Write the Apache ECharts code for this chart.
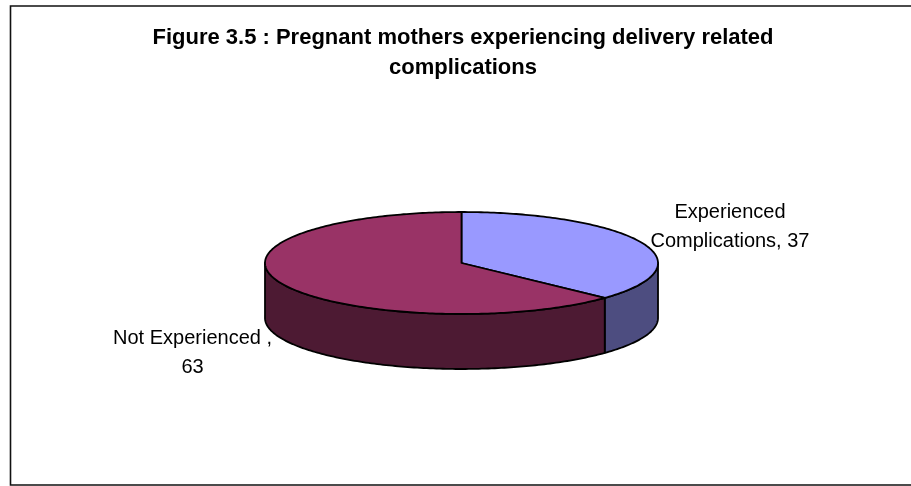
<!DOCTYPE html>
<html><head><meta charset="utf-8">
<style>html,body{margin:0;padding:0;background:#fff}#c{width:911px;height:486px}</style>
<script src="https://cdn.jsdelivr.net/npm/echarts@6/dist/echarts.min.js"></script>
</head><body><div id="c"></div>
<script>
const categories = ['Experienced Complications', 'Not Experienced'];
const values = [37, 63];
const labelTexts = ['Experienced\nComplications, 37', 'Not Experienced ,\n63'];
const topColors = ['#9999FF', '#993366'];
const sideColors = ['#4D4D80', '#4D1A33'];
const titleText = 'Figure 3.5 : Pregnant mothers experiencing delivery related\ncomplications';

const cx = 461.5, cy = 263, rx = 196.5, ry = 51, depth = 55;
const total = values.reduce((a, b) => a + b, 0);
const px = a => cx + rx * Math.sin(a);
const py = a => cy - ry * Math.cos(a);
function arc(a0, a1, dy) {
  const pts = [], n = Math.max(2, Math.ceil((a1 - a0) * 60));
  for (let i = 0; i <= n; i++) {
    const a = a0 + (a1 - a0) * i / n;
    pts.push([px(a), py(a) + dy]);
  }
  return pts;
}
function renderItem(params, api) {
  const i = params.dataIndex;
  let before = 0;
  for (let k = 0; k < i; k++) before += values[k];
  const a0 = before / total * 2 * Math.PI;
  const a1 = (before + api.value(0)) / total * 2 * Math.PI;
  const s0 = Math.max(a0, Math.PI / 2), s1 = Math.min(a1, 3 * Math.PI / 2);
  const children = [];
  const lineStyle = { stroke: '#000', lineWidth: 1.8, lineJoin: 'round' };
  if (s1 > s0) {
    const top = arc(s0, s1, 0), bot = arc(s0, s1, depth).reverse();
    children.push({ type: 'polygon', shape: { points: top.concat(bot) },
      style: Object.assign({ fill: sideColors[i] }, lineStyle) });
  }
  children.push({ type: 'polygon', shape: { points: [[cx, cy]].concat(arc(a0, a1, 0)) },
    style: Object.assign({ fill: topColors[i] }, lineStyle) });
  return { type: 'group', children };
}
const chart = echarts.init(document.getElementById('c'), null, { renderer: 'canvas' });
const font = '"Liberation Sans", Arial, sans-serif';
chart.setOption({
  animation: false,
  backgroundColor: '#fff',
  title: { text: titleText, left: 458, top: 18, textAlign: 'center',
    textStyle: { fontFamily: font, fontSize: 22, fontWeight: 'bold', color: '#000', lineHeight: 30 } },
  series: [{
    type: 'custom', coordinateSystem: 'none', renderItem,
    data: categories.map((c, i) => ({ name: c, value: [values[i]] })),
    silent: true
  }],
  graphic: [
    { type: 'rect', shape: { x: 10.5, y: 6, width: 920, height: 479 }, silent: true, z: 10,
      style: { fill: 'none', stroke: '#111', lineWidth: 1.6 } },
    { type: 'text', x: 730, y: 198, z: 20, style: { text: labelTexts[0], align: 'center', verticalAlign: 'top',
        font: '20px ' + font, lineHeight: 29, fill: '#000' } },
    { type: 'text', x: 192.5, y: 324, z: 20, style: { text: labelTexts[1], align: 'center', verticalAlign: 'top',
        font: '20px ' + font, lineHeight: 29, fill: '#000' } }
  ]
});
</script></body></html>
